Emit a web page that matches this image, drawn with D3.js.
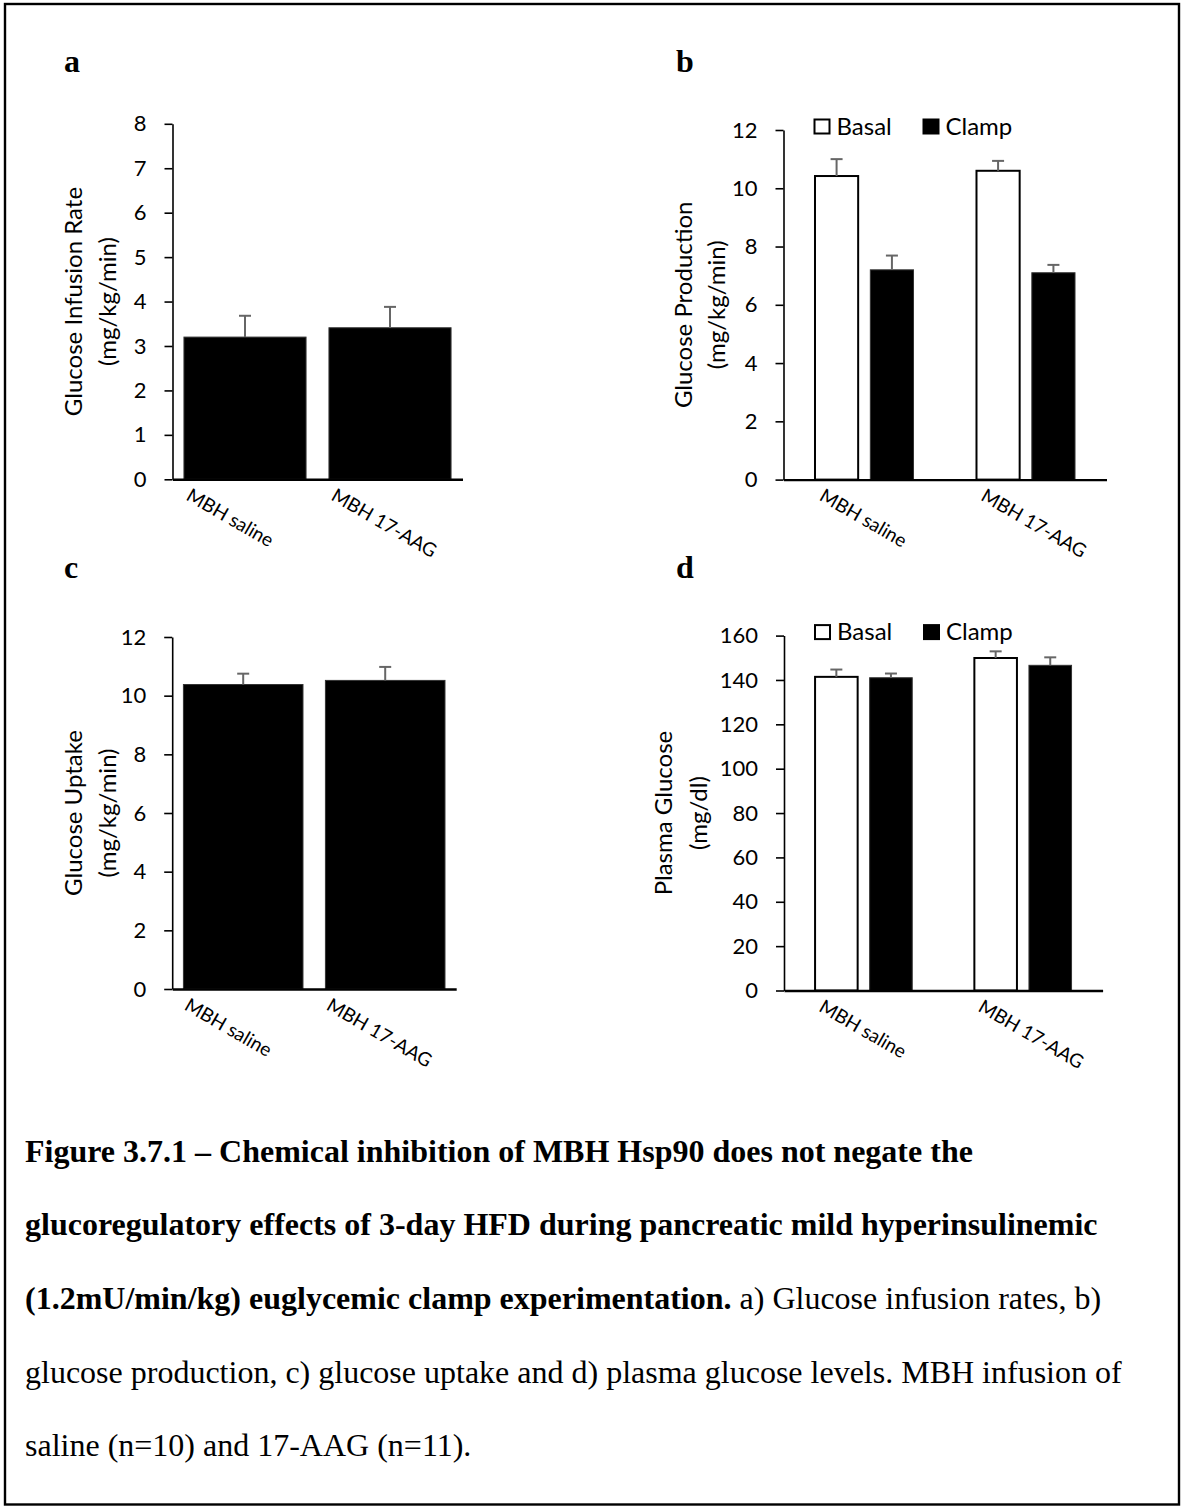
<!DOCTYPE html>
<html>
<head>
<meta charset="utf-8">
<script src="https://cdn.jsdelivr.net/npm/d3@7"></script>
<style>
  body { margin: 0; background: #fff; }
  svg text { fill: #000; }
</style>
</head>
<body>
<div id="chart"></div>
<script>
var categories = ['MBH saline', 'MBH 17-AAG'];
var seriesNames = ['Basal', 'Clamp'];

// a) glucose infusion rate (mg/kg/min)
var girMean = [3.20, 3.41];
var girSem  = [0.48, 0.47];

// b) glucose production (mg/kg/min)
var prodBasal    = [10.42, 10.60];
var prodBasalSem = [0.58, 0.34];
var prodClamp    = [7.20, 7.10];
var prodClampSem = [0.49, 0.27];

// c) glucose uptake (mg/kg/min)
var uptakeMean = [10.38, 10.52];
var uptakeSem  = [0.37, 0.46];

// d) plasma glucose (mg/dl)
var pgBasal    = [141.4, 149.9];
var pgBasalSem = [3.3, 3.0];
var pgClamp    = [141.0, 146.6];
var pgClampSem = [1.9, 3.6];

var ticksA = [0, 1, 2, 3, 4, 5, 6, 7, 8];
var ticksB = [0, 2, 4, 6, 8, 10, 12];
var ticksC = [0, 2, 4, 6, 8, 10, 12];
var ticksD = [0, 20, 40, 60, 80, 100, 120, 140, 160];

var captionLines = [
  [['Figure 3.7.1 \u2013 Chemical inhibition of MBH Hsp90 does not negate the', true]],
  [['glucoregulatory effects of 3-day HFD during pancreatic mild hyperinsulinemic', true]],
  [['(1.2mU/min/kg) euglycemic clamp experimentation.', true], [' a) Glucose infusion rates, b)', false]],
  [['glucose production, c) glucose uptake and d) plasma glucose levels. MBH infusion of', false]],
  [['saline (n=10) and 17-AAG (n=11).', false]]
];

var SANS = 'Lato, "Open Sans", sans-serif',
    SERIF = '"Liberation Serif", "Times New Roman", serif',
    ERR = '#666';

var svg = d3.select('#chart')
  .append('svg')
  .attr('width', 1181)
  .attr('height', 1507);

svg.append('rect')
  .attr('x', 5).attr('y', 4)
  .attr('width', 1174).attr('height', 1500.5)
  .attr('fill', '#fff')
  .attr('stroke', '#000')
  .attr('stroke-width', 2.4);

var panels = [
  { letter: 'a', lx: 64, ly: 72, x0: 172.5, x1: 462.5, yTop: 123.8, y0: 479.3, max: 8, ticks: ticksA,
    title: ['Glucose Infusion Rate', '(mg/kg/min)'], tx: [82, 116], labelDx: -60,
    series: [{ mean: girMean, sem: girSem, fill: '#000' }] },
  { letter: 'b', lx: 676, ly: 72, x0: 783.5, x1: 1106.5, yTop: 130, y0: 479.6, max: 12, ticks: ticksB,
    title: ['Glucose Production', '(mg/kg/min)'], tx: [692, 725], labelDx: -46, legend: true,
    series: [{ mean: prodBasal, sem: prodBasalSem, fill: '#fff' },
             { mean: prodClamp, sem: prodClampSem, fill: '#000' }] },
  { letter: 'c', lx: 64, ly: 578, x0: 172.2, x1: 456.2, yTop: 637, y0: 989, max: 12, ticks: ticksC,
    title: ['Glucose Uptake', '(mg/kg/min)'], tx: [82, 116], labelDx: -60,
    series: [{ mean: uptakeMean, sem: uptakeSem, fill: '#000' }] },
  { letter: 'd', lx: 676, ly: 578, x0: 784, x1: 1102.6, yTop: 635.6, y0: 990.5, max: 160, ticks: ticksD,
    title: ['Plasma Glucose', '(mg/dl)'], tx: [672, 707], labelDx: -46, legend: true,
    series: [{ mean: pgBasal, sem: pgBasalSem, fill: '#fff' },
             { mean: pgClamp, sem: pgClampSem, fill: '#000' }] }
];

panels.forEach(drawPanel);

function drawPanel(p) {
  var g = svg.append('g');
  var grouped = p.series.length > 1;

  var y = d3.scaleLinear().domain([0, p.max]).range([p.y0, p.yTop]);
  var x = d3.scaleBand().domain(categories).range([p.x0, p.x1]);
  if (grouped) x.paddingInner(0.39).paddingOuter(0.195);
  else x.paddingInner(0.158).paddingOuter(0.079);
  var xs = d3.scaleBand().domain(seriesNames.slice(0, p.series.length))
    .range([0, x.bandwidth()]).paddingInner(grouped ? 0.22 : 0);

  // panel letter
  g.append('text')
    .attr('x', p.lx).attr('y', p.ly)
    .style('font-family', SERIF).style('font-weight', 'bold').style('font-size', '32px')
    .text(p.letter);

  // bars
  p.series.forEach(function(s, si) {
    var name = seriesNames[si];
    g.selectAll(null)
      .data(categories)
      .enter().append('rect')
      .attr('x', function(d) { return x(d) + xs(name); })
      .attr('y', function(d, i) { return y(s.mean[i]); })
      .attr('width', xs.bandwidth())
      .attr('height', function(d, i) { return y(0) - y(s.mean[i]); })
      .attr('fill', s.fill)
      .attr('stroke', s.fill === '#fff' ? '#000' : '#333')
      .attr('stroke-width', s.fill === '#fff' ? 2 : 1);

    // error bars (upper only)
    var eb = g.selectAll(null)
      .data(categories)
      .enter().append('g')
      .attr('transform', function(d) { return 'translate(' + (x(d) + xs(name) + xs.bandwidth() / 2) + ',0)'; });
    eb.append('line')
      .attr('y1', function(d, i) { return y(s.mean[i]); })
      .attr('y2', function(d, i) { return y(s.mean[i] + s.sem[i]); })
      .attr('stroke', ERR).attr('stroke-width', 2);
    eb.append('line')
      .attr('x1', -6).attr('x2', 6)
      .attr('y1', function(d, i) { return y(s.mean[i] + s.sem[i]); })
      .attr('y2', function(d, i) { return y(s.mean[i] + s.sem[i]); })
      .attr('stroke', ERR).attr('stroke-width', 2);
  });

  // y axis
  var ya = g.append('g')
    .attr('transform', 'translate(' + p.x0 + ',0)')
    .call(d3.axisLeft(y).tickValues(p.ticks).tickSize(8).tickPadding(18).tickSizeOuter(0));
  ya.select('.domain').attr('stroke', '#000').attr('stroke-width', 1.6);
  ya.selectAll('.tick line').attr('stroke', '#000').attr('stroke-width', 1.6);
  ya.selectAll('.tick text')
    .style('font-family', SANS).style('font-size', '22px').attr('fill', '#000');

  // x axis
  var xa = g.append('g')
    .attr('transform', 'translate(0,' + p.y0 + ')')
    .call(d3.axisBottom(x).tickSize(0).tickSizeOuter(0));
  xa.select('.domain').attr('stroke', '#000').attr('stroke-width', 2.4);
  xa.selectAll('.tick text')
    .attr('x', 0).attr('y', 0).attr('dy', 0)
    .attr('text-anchor', 'start')
    .attr('transform', 'translate(' + p.labelDx + ',20) rotate(30)')
    .style('font-family', SANS).style('font-size', '19px').attr('fill', '#000');

  // y title, two lines
  var cy = (p.y0 + p.yTop) / 2;
  p.title.forEach(function(t, i) {
    g.append('text')
      .attr('transform', 'translate(' + p.tx[i] + ',' + cy + ') rotate(-90)')
      .attr('text-anchor', 'middle')
      .style('font-family', SANS).style('font-size', '24px')
      .text(t);
  });

  // legend
  if (p.legend) {
    var lg = g.append('g').attr('transform', 'translate(' + (p.x0 + 30) + ',' + (p.yTop - 11.5) + ')');
    var items = lg.selectAll('g')
      .data(p.series)
      .enter().append('g')
      .attr('transform', function(d, i) { return 'translate(' + (i * 109) + ',0)'; });
    items.append('rect')
      .attr('x', 1).attr('y', 1).attr('width', 15).attr('height', 14)
      .attr('fill', function(d) { return d.fill; })
      .attr('stroke', '#000').attr('stroke-width', 2);
    items.append('text')
      .attr('x', 23).attr('y', 16)
      .style('font-family', SANS).style('font-size', '24px')
      .text(function(d, i) { return seriesNames[i]; });
  }
}

// caption
var cap = svg.append('g')
  .style('font-family', SERIF).style('font-size', '32px');
cap.selectAll('text')
  .data(captionLines)
  .enter().append('text')
  .attr('x', 25)
  .attr('y', function(d, i) { return 1161.7 + i * 73.6; })
  .each(function(parts) {
    var t = d3.select(this);
    parts.forEach(function(pt) {
      t.append('tspan')
        .style('font-weight', pt[1] ? 'bold' : 'normal')
        .text(pt[0]);
    });
  });
</script>
</body>
</html>
